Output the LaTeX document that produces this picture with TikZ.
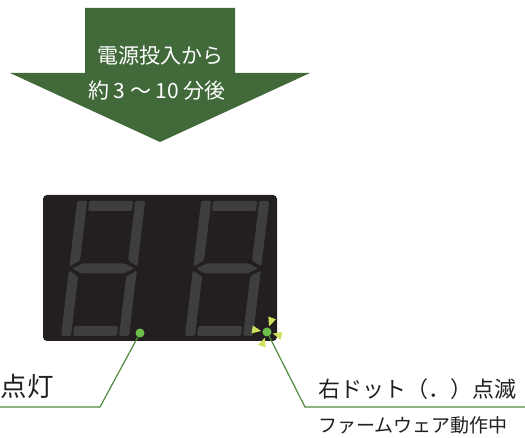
\documentclass[tikz,border=0pt]{standalone}
\usepackage{fontspec}
\newfontfamily\jp{Noto Sans CJK JP}
\definecolor{arrowGreen}{HTML}{41693A}
\definecolor{panelBlack}{HTML}{231F20}
\definecolor{segGray}{HTML}{3E3E3E}
\definecolor{dotGreen}{HTML}{6CC04A}
\definecolor{leadGreen}{HTML}{4E8A3C}
\definecolor{sparkYellow}{HTML}{CFE15A}
\definecolor{textDark}{HTML}{231F20}
\begin{document}
\begin{tikzpicture}[x=1pt, y=-1pt,
  seg/.style={fill=segGray, rounded corners=1.5pt},
  lead/.style={draw=leadGreen, line width=1.2pt},
  ledDot/.style={circle, fill=dotGreen, inner sep=0pt, minimum size=9pt},
  spark/.style={fill=sparkYellow},
  arrowText/.style={text=white, font=\jp\fontsize{21}{24}\selectfont, inner sep=0pt, anchor=base},
  noteText/.style={text=textDark, inner sep=0pt}]
\useasboundingbox (0,0) rectangle (525,438);

% arrow
\fill[arrowGreen] (85,8) -- (235,8) -- (235,73) -- (310,73) -- (160,142) -- (10,73) -- (85,73) -- cycle;
\node[arrowText] (t1) at (160,64) {電源投入から};
\node[arrowText] (t2) at (157,99) {約 3 ～ 10 分後};

% display
\fill[panelBlack, rounded corners=4pt] (43,195) rectangle (277,341);
\foreach \dx in {61,185} {
\begin{scope}[shift={(\dx,336)}, x=1pt, y={(0.12pt,1pt)}]
\fill[seg] (12,135) -- (56,135) -- (56,125) -- (12,125) -- cycle;
\fill[seg] (0,69.5) -- (0,135) -- (10,135) -- (10,75.5) -- cycle;
\fill[seg] (68,69.5) -- (68,135) -- (58,135) -- (58,75.5) -- cycle;
\fill[seg] (3,67.5) -- (13,72.5) -- (55,72.5) -- (65,67.5) -- (55,62.5) -- (13,62.5) -- cycle;
\fill[seg] (0,65.5) -- (0,0) -- (10,0) -- (10,59.5) -- cycle;
\fill[seg] (68,65.5) -- (68,0) -- (58,0) -- (58,59.5) -- cycle;
\fill[seg] (12,0) -- (56,0) -- (56,10) -- (12,10) -- cycle;
\end{scope}
}

% dots and leaders
\coordinate (k1) at (100,407);
\coordinate (e1) at (0,407);
\coordinate (k2) at (305,407);
\coordinate (e2) at (525,407);
\node[ledDot] (d1) at (140,333) {};
\node[ledDot] (d2) at (267,332) {};
\draw[lead] (d1) -- (k1) -- (e1);
\draw[lead] (d2) -- (k2) -- (e2);
\foreach \a in {170,70,-15,-110}
  \fill[spark, shift={(d2)}, rotate=\a] (6,0) -- (15,-4) -- (15,4) -- cycle;

% labels
\node[noteText, anchor=base west, font=\jp\fontsize{26.5}{29}\selectfont] (lit) at (0.5,396) {点灯};
\node[noteText, anchor=base west, font=\jp\fontsize{22}{24}\selectfont] (blink) at (318,398) {右ドット（．）点滅};
\node[noteText, anchor=base west, font=\jp\fontsize{19}{21}\selectfont] (fw) at (318,432) {ファームウェア動作中};
\end{tikzpicture}
\end{document}
